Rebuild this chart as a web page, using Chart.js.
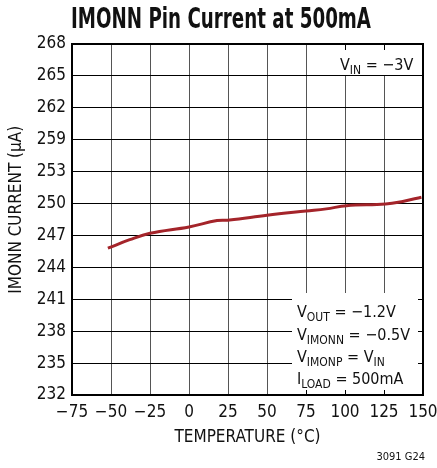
<!DOCTYPE html>
<html>
<head>
<meta charset="utf-8">
<script src="https://cdn.jsdelivr.net/npm/chart.js@4"></script>
<style>
  html, body { margin: 0; padding: 0; background: #fff; }
  #wrap { width: 437px; height: 468px; }
</style>
</head>
<body>
<div id="wrap"><canvas id="imonnChart" width="437" height="468"></canvas></div>
<script>
// data
const temps = [-52, -38, -25, 0, 18, 26, 50, 75, 88, 101, 126, 137, 149];
const currentUA = [245.8, 246.6, 247.2, 247.8, 248.4, 248.45, 248.9, 249.3, 249.5, 249.8, 249.95, 250.2, 250.6];
const xTickLabels = ['\u221275', '\u221250', '\u221225', '0', '25', '50', '75', '100', '125', '150'];
// the printed axis skips 256, so the labels are not a plain count of 3s
const yTickLabels = ['232', '235', '238', '241', '244', '247', '250', '253', '259', '262', '265', '268'];

const FONT = '"Liberation Sans Narrow", "DejaVu Sans Condensed", "Roboto Condensed", sans-serif';

function subText(ctx, parts, x, y, size) {
    // parts: [text, isSub]
    let cx = x;
    parts.forEach(([t, sub]) => {
        ctx.font = (sub ? Math.round(size * 0.78) : size) + 'px ' + FONT;
        ctx.fillText(t, cx, sub ? y + 4 : y);
        cx += ctx.measureText(t).width;
    });
}

const notesPlugin = {
    id: 'notes',
    afterDatasetsDraw(chart) {
        const ctx = chart.ctx;
        const a = chart.chartArea;
        const xs = chart.scales.x, ys = chart.scales.y;
        ctx.save();
        // white boxes behind the notes
        ctx.fillStyle = '#fff';
        ctx.fillRect(330, a.top + 6, a.right - 330, 25);
        ctx.fillRect(292, 293, a.right - 292, a.bottom - 293);
        // little inward ticks where the grid was covered
        ctx.strokeStyle = '#000';
        ctx.lineWidth = 1;
        [100, 125].forEach(v => {
            const px = Math.round(xs.getPixelForValue(v)) + 0.5;
            ctx.beginPath(); ctx.moveTo(px, a.top); ctx.lineTo(px, a.top + 6); ctx.stroke();
        });
        [75, 100, 125].forEach(v => {
            const px = Math.round(xs.getPixelForValue(v)) + 0.5;
            ctx.beginPath(); ctx.moveTo(px, a.bottom); ctx.lineTo(px, a.bottom - 5); ctx.stroke();
        });
        [241, 238, 235].forEach(v => {
            const py = Math.round(ys.getPixelForValue(v)) + 0.5;
            ctx.beginPath(); ctx.moveTo(a.right, py); ctx.lineTo(a.right - 5, py); ctx.stroke();
        });
        ctx.fillStyle = '#111';
        ctx.textBaseline = 'alphabetic';
        ctx.textAlign = 'left';
        subText(ctx, [['V', 0], ['IN', 1], [' = \u22123V', 0]], 340, 70, 16);
        subText(ctx, [['V', 0], ['OUT', 1], [' = \u22121.2V', 0]], 297, 317, 16);
        subText(ctx, [['V', 0], ['IMONN', 1], [' = \u22120.5V', 0]], 297, 340, 16);
        subText(ctx, [['V', 0], ['IMONP', 1], [' = V', 0], ['IN', 1]], 297, 362, 16);
        subText(ctx, [['I', 0], ['LOAD', 1], [' = 500mA', 0]], 297, 384, 16);
        // frame
        ctx.lineWidth = 2;
        ctx.strokeRect(a.left, a.top, a.right - a.left, a.bottom - a.top);
        // title, squeezed to the condensed width of the original
        ctx.font = 'bold 28px ' + FONT;
        const title = 'IMONN Pin Current at 500mA';
        const sx = 300 / ctx.measureText(title).width;
        ctx.save();
        ctx.translate(221, 28);
        ctx.scale(sx, 1);
        ctx.textAlign = 'center';
        ctx.fillText(title, 0, 0);
        ctx.restore();
        ctx.textAlign = 'right';
        ctx.font = '11px ' + FONT;
        ctx.fillText('3091 G24', 425, 460);
        ctx.restore();
    }
};

const ctx = document.getElementById('imonnChart').getContext('2d');
new Chart(ctx, {
    type: 'line',
    data: {
        datasets: [{
            data: temps.map((t, i) => ({ x: t, y: currentUA[i] })),
            borderColor: '#a4242a',
            borderWidth: 3,
            pointRadius: 0,
            tension: 0.4,
            fill: false
        }]
    },
    options: {
        responsive: false,
        animation: false,
        devicePixelRatio: 1,
        layout: { padding: { top: 44, right: 14, left: 0, bottom: 16 } },
        plugins: { legend: { display: false }, tooltip: { enabled: false } },
        scales: {
            x: {
                type: 'linear',
                min: -75,
                max: 150,
                afterBuildTicks: s => { s.ticks = xTickLabels.map((_, i) => ({ value: -75 + 25 * i })); },
                afterFit: s => { s.height = 57; s.paddingLeft = 0; s.paddingRight = 0; },
                ticks: {
                    color: '#111',
                    padding: 7,
                    maxRotation: 0,
                    font: { family: FONT, size: 17 },
                    callback: (v, i) => xTickLabels[i]
                },
                grid: { color: '#555', lineWidth: 1, drawTicks: false },
                border: { display: false },
                title: {
                    display: true,
                    text: 'TEMPERATURE (\u00b0C)',
                    color: '#111',
                    font: { family: FONT, size: 17 },
                    padding: { top: 2 }
                }
            },
            y: {
                type: 'linear',
                min: 232,
                max: 265,
                afterBuildTicks: s => { s.ticks = yTickLabels.map((_, i) => ({ value: 232 + 3 * i })); },
                afterFit: s => { s.width = 72; s.paddingTop = 0; s.paddingBottom = 0; },
                ticks: {
                    color: '#111',
                    padding: 6,
                    font: { family: FONT, size: 17 },
                    callback: (v, i) => yTickLabels[i]
                },
                grid: { color: '#000', lineWidth: 1, drawTicks: false },
                border: { display: false },
                title: {
                    display: true,
                    text: '    IMONN CURRENT (\u00b5A)',
                    color: '#111',
                    font: { family: FONT, size: 17 },
                    padding: { top: 6, bottom: 0 }
                }
            }
        }
    },
    plugins: [notesPlugin]
});
</script>
</body>
</html>
